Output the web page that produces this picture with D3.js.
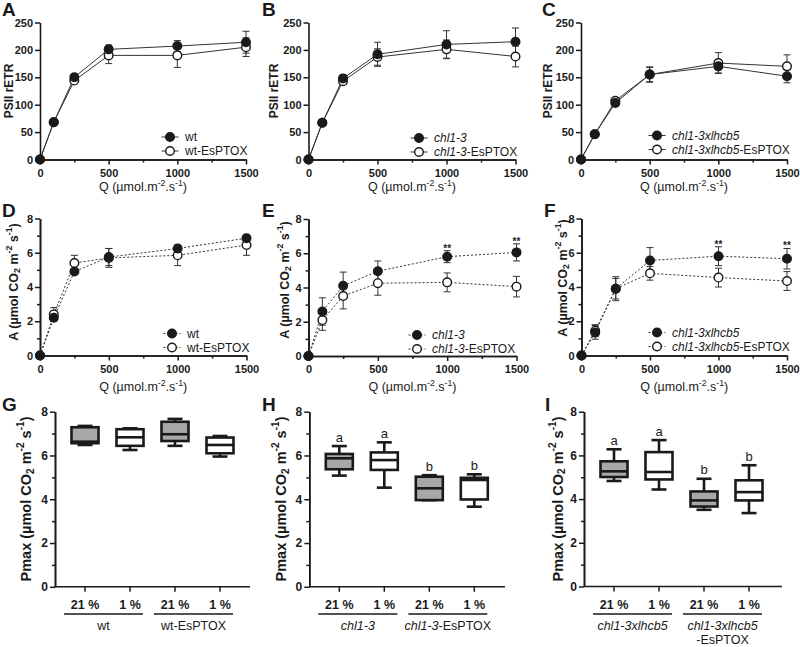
<!DOCTYPE html>
<html><head><meta charset="utf-8">
<script src="https://cdn.jsdelivr.net/npm/d3@7"></script>
<style>body{margin:0;background:#fff} svg{font-family:"Liberation Sans",Arial,sans-serif}</style>
</head><body><svg id="c" width="800" height="647"></svg>
<script>
// ---------- DATA ----------
const qLevels = [0, 100, 250, 500, 1000, 1500];
const qMajorTicks = [0, 500, 1000, 1500];
const qMinorTicks = [250, 750, 1250];
const etrTicks = [0, 50, 100, 150, 200, 250];
const co2Ticks = [0, 2, 4, 6, 8];
const co2MinorTicks = [1, 3, 5, 7];

// Panel A (PSII rETR)
const etrWt = [0, 68, 150, 201, 207, 214];
const etrWtErr = [0, 2, 6, 8, 10, 20];
const etrWtPtox = [0, 68, 144, 190, 190, 205];
const etrWtPtoxErr = [0, 2, 5, 15, 22, 17];
// Panel B
const etrChl = [0, 67, 148, 192, 210, 215];
const etrChlErr = [0, 2, 6, 22, 25, 25];
const etrChlPtox = [0, 67, 143, 187, 201, 188];
const etrChlPtoxErr = [0, 2, 6, 15, 17, 19];
// Panel C
const etrLh = [0, 46, 103, 155, 170, 152];
const etrLhErr = [0, 2, 5, 13, 12, 12];
const etrLhPtox = [0, 46, 107, 155, 176, 170];
const etrLhPtoxErr = [0, 2, 6, 14, 19, 21];

// Panel D (A, umol CO2)
const aWt = [0, 2.2, 4.9, 5.75, 6.25, 6.85];
const aWtErr = [0, 0.2, 0.15, 0.5, 0.1, 0.2];
const aWtPtox = [0, 2.4, 5.4, 5.7, 5.85, 6.45];
const aWtPtoxErr = [0, 0.4, 0.45, 0.55, 0.6, 0.6];
// Panel E
const aChl = [0, 2.6, 4.1, 4.95, 5.8, 6.05];
const aChlErr = [0, 0.8, 0.8, 0.6, 0.35, 0.5];
const aChlPtox = [0, 2.1, 3.5, 4.25, 4.3, 4.05];
const aChlPtoxErr = [0, 0.6, 0.75, 0.7, 0.55, 0.6];
const starsE = [1000, 1500];
// Panel F
const aLh = [0, 1.35, 3.9, 5.55, 5.8, 5.65];
const aLhErr = [0, 0.4, 0.7, 0.75, 0.55, 0.6];
const aLhPtox = [0, 1.45, 3.9, 4.8, 4.55, 4.35];
const aLhPtoxErr = [0, 0.35, 0.6, 0.4, 0.55, 0.55];
const starsF = [1000, 1500];

// Pmax boxes: [min, q1, median, q3, max]
const oxygenLabels = ["21 %", "1 %", "21 %", "1 %"];
const pmaxG = [[6.48, 6.56, 6.63, 7.29, 7.35], [6.25, 6.44, 6.83, 7.2, 7.24], [6.44, 6.66, 6.97, 7.54, 7.67], [5.95, 6.1, 6.48, 6.82, 6.89]];
const pmaxH = [[5.08, 5.37, 5.87, 6.07, 6.43], [4.53, 5.34, 5.79, 6.14, 6.6], [3.96, 3.96, 4.5, 5.03, 5.1], [3.66, 3.99, 4.88, 4.98, 5.14]];
const pmaxI = [[4.83, 5.01, 5.27, 5.73, 6.28], [4.44, 4.9, 5.24, 6.15, 6.7], [3.51, 3.66, 3.94, 4.35, 4.93], [3.36, 3.94, 4.32, 4.86, 5.55]];
const lettersH = ["a", "a", "b", "b"];
const lettersI = ["a", "a", "b", "b"];

// ---------- DRAWING ----------
const svg = d3.select("#c");
const INK = "#1a1a1a";
const fmtInt = d3.format("d");

function rich(g, parts, fs) {
  const t = g.append("text").attr("font-size", fs);
  let shift = 0;
  parts.forEach(p => {
    const ts = t.append("tspan").text(p.t);
    const target = p.s === "sup" ? -0.4 * fs : p.s === "sub" ? 0.25 * fs : 0;
    if (target !== shift) { ts.attr("dy", target - shift); shift = target; }
    if (p.s) ts.attr("font-size", fs * 0.7);
    if (p.i) ts.attr("font-style", "italic");
  });
  return t;
}
function styleAxis(a, fs) {
  a.select(".domain").attr("stroke", INK).attr("stroke-width", 1.6);
  a.selectAll(".tick line").attr("stroke", INK).attr("stroke-width", 1.5);
  a.selectAll(".tick text").attr("font-size", fs).attr("font-weight", "bold").attr("fill", INK)
    .attr("font-family", '"Liberation Sans",Arial,sans-serif');
}
function panelLetter(txt, x, y) {
  svg.append("text").attr("x", x).attr("y", y).attr("font-size", 19).attr("font-weight", "bold")
    .attr("fill", INK).text(txt);
}
function yLabel(parts, cx, cy, fs) {
  const g = svg.append("g").attr("transform", `translate(${cx},${cy}) rotate(-90)`);
  rich(g, parts, fs).attr("text-anchor", "middle").attr("dominant-baseline", "central")
    .attr("font-weight", "bold").attr("fill", INK);
}
const qLabelParts = [{t: "Q (µmol.m"}, {t: "-2", s: "sup"}, {t: ".s"}, {t: "-1", s: "sup"}, {t: ")"}];

function linePanel(o) {
  const g = svg.append("g");
  const x = d3.scaleLinear().domain([0, 1500]).range([o.ax, o.xe]);
  const y = d3.scaleLinear().domain([0, o.ymax]).range([o.yb, o.yt]);
  const xm = g.append("g").attr("transform", `translate(0,${o.yb})`)
    .call(d3.axisBottom(x).tickValues(qMinorTicks).tickSize(3).tickSizeOuter(0).tickFormat(""));
  styleAxis(xm, 11);
  const xa = g.append("g").attr("transform", `translate(0,${o.yb})`)
    .call(d3.axisBottom(x).tickValues(qMajorTicks).tickSize(5).tickSizeOuter(0).tickPadding(4.5).tickFormat(fmtInt));
  styleAxis(xa, 11);
  if (o.yMinor) {
    const ym = g.append("g").attr("transform", `translate(${o.ax},0)`)
      .call(d3.axisLeft(y).tickValues(o.yMinor).tickSize(3).tickSizeOuter(0).tickFormat(""));
    styleAxis(ym, 11);
  }
  const ya = g.append("g").attr("transform", `translate(${o.ax},0)`)
    .call(d3.axisLeft(y).tickValues(o.yTicks).tickSize(5).tickSizeOuter(0).tickPadding(2).tickFormat(fmtInt));
  styleAxis(ya, 11);
  rich(g.append("g").attr("transform", `translate(${(o.ax + o.xe) / 2},${o.xlabY})`), qLabelParts, 12.5)
    .attr("text-anchor", "middle").attr("fill", INK);
  const line = d3.line().x((d, i) => x(qLevels[i])).y(d => y(d));
  const series = [
    {v: o.open, e: o.openErr, filled: false},
    {v: o.filled, e: o.filledErr, filled: true}
  ];
  series.forEach(s => {
    g.append("path").datum(s.v).attr("d", line).attr("fill", "none")
      .attr("stroke", "#333").attr("stroke-width", 1)
      .attr("stroke-dasharray", o.dashed ? "2,2" : null);
  });
  series.forEach(s => {
    s.v.forEach((v, i) => {
      if (!s.e[i]) return;
      const cx = x(qLevels[i]), t = y(v + s.e[i]), b = y(v - s.e[i]);
      g.append("line").attr("x1", cx).attr("x2", cx).attr("y1", t).attr("y2", b).attr("stroke", "#333").attr("stroke-width", 1);
      [t, b].forEach(yy => g.append("line").attr("x1", cx - 3.5).attr("x2", cx + 3.5).attr("y1", yy).attr("y2", yy)
        .attr("stroke", "#333").attr("stroke-width", 1));
    });
  });
  series.forEach(s => {
    g.selectAll(null).data(s.v).enter().append("circle")
      .attr("cx", (d, i) => x(qLevels[i])).attr("cy", d => y(d)).attr("r", 4.3)
      .attr("fill", s.filled ? INK : "#fff").attr("stroke", INK).attr("stroke-width", 1.4);
  });
  if (o.stars) {
    o.stars.forEach(q => {
      const i = qLevels.indexOf(q);
      g.append("text").attr("x", x(q)).attr("y", y(o.filled[i] + o.filledErr[i]) + 1)
        .attr("text-anchor", "middle").attr("font-size", 10).attr("font-weight", "bold").attr("fill", INK).text("**");
    });
  }
  [{lab: o.legF, filled: true, yy: o.legY}, {lab: o.legO, filled: false, yy: o.legY + 14}].forEach(L => {
    g.append("line").attr("x1", o.legX - 8.5).attr("x2", o.legX + 8.5).attr("y1", L.yy).attr("y2", L.yy)
      .attr("stroke", "#333").attr("stroke-width", 1).attr("stroke-dasharray", o.dashed ? "2,2" : null);
    g.append("circle").attr("cx", o.legX).attr("cy", L.yy).attr("r", 4.3)
      .attr("fill", L.filled ? INK : "#fff").attr("stroke", INK).attr("stroke-width", 1.4);
    rich(g.append("g").attr("transform", `translate(${o.legX + 15},${L.yy + 4.2})`), L.lab, 12).attr("fill", INK);
  });
}

function boxPanel(o) {
  const g = svg.append("g");
  const x = d3.scalePoint().domain(d3.range(4)).range([o.ax + 30, o.ax + 165]);
  const y = d3.scaleLinear().domain([0, 8]).range([o.yb, o.yt]);
  const ym = g.append("g").attr("transform", `translate(${o.ax},0)`)
    .call(d3.axisLeft(y).tickValues(co2MinorTicks).tickSize(3).tickSizeOuter(0).tickFormat(""));
  styleAxis(ym, 11);
  const ya = g.append("g").attr("transform", `translate(${o.ax},0)`)
    .call(d3.axisLeft(y).tickValues(co2Ticks).tickSize(5).tickSizeOuter(0).tickPadding(2).tickFormat(fmtInt));
  styleAxis(ya, 12);
  g.append("line").attr("x1", o.ax).attr("x2", o.xe).attr("y1", o.yb).attr("y2", o.yb).attr("stroke", INK).attr("stroke-width", 1.6);
  const bw = 27, cw = 15;
  o.data.forEach((d, i) => {
    const cx = x(i);
    g.append("line").attr("x1", cx).attr("x2", cx).attr("y1", o.yb).attr("y2", o.yb + 5).attr("stroke", INK).attr("stroke-width", 1.5);
    const L = (x1, y1, x2, y2) => g.append("line").attr("x1", x1).attr("y1", y1).attr("x2", x2).attr("y2", y2)
      .attr("stroke", INK).attr("stroke-width", 2.6).attr("stroke-linecap", "butt");
    L(cx, y(d[4]), cx, y(d[3]));
    L(cx, y(d[1]), cx, y(d[0]));
    L(cx - cw / 2, y(d[4]), cx + cw / 2, y(d[4]));
    L(cx - cw / 2, y(d[0]), cx + cw / 2, y(d[0]));
    g.append("rect").attr("x", cx - bw / 2).attr("y", y(d[3])).attr("width", bw).attr("height", Math.max(0.1, y(d[1]) - y(d[3])))
      .attr("fill", i % 2 === 0 ? "#a8a8a8" : "#fff").attr("stroke", INK).attr("stroke-width", 2.6);
    L(cx - bw / 2, y(d[2]), cx + bw / 2, y(d[2]));
    g.append("text").attr("x", cx).attr("y", 609).attr("text-anchor", "middle").attr("font-size", 12.5)
      .attr("font-weight", "bold").attr("fill", INK).text(oxygenLabels[i]);
    if (o.letters) {
      g.append("text").attr("x", cx).attr("y", y(d[4]) - 4.5).attr("text-anchor", "middle").attr("font-size", 13)
        .attr("fill", INK).text(o.letters[i]);
    }
  });
  [[0, 1], [2, 3]].forEach((pr, k) => {
    const x1 = x(pr[0]) - 21, x2 = x(pr[1]) + 13;
    g.append("line").attr("x1", x1).attr("x2", x2).attr("y1", 614).attr("y2", 614).attr("stroke", INK).attr("stroke-width", 1.6);
    o.groups[k].forEach((parts, j) => {
      rich(g.append("g").attr("transform", `translate(${(x1 + x2) / 2},${630 + j * 14})`), parts, 12.5)
        .attr("text-anchor", "middle").attr("fill", INK);
    });
  });
}

// ----- Row 1 -----
const etrLabel = [{t: "PSII rETR"}];
linePanel({ax: 40, xe: 246, yb: 159.5, yt: 22.5, ymax: 250, yTicks: etrTicks, xlabY: 191,
  filled: etrWt, filledErr: etrWtErr, open: etrWtPtox, openErr: etrWtPtoxErr,
  legX: 170, legY: 137, legF: [{t: "wt"}], legO: [{t: "wt-EsPTOX"}]});
linePanel({ax: 308.5, xe: 515.5, yb: 159.5, yt: 22.5, ymax: 250, yTicks: etrTicks, xlabY: 191,
  filled: etrChl, filledErr: etrChlErr, open: etrChlPtox, openErr: etrChlPtoxErr,
  legX: 419, legY: 138, legF: [{t: "chl1-3", i: true}], legO: [{t: "chl1-3", i: true}, {t: "-EsPTOX"}]});
linePanel({ax: 581, xe: 787, yb: 159.5, yt: 22.5, ymax: 250, yTicks: etrTicks, xlabY: 191,
  filled: etrLh, filledErr: etrLhErr, open: etrLhPtox, openErr: etrLhPtoxErr,
  legX: 657, legY: 135.5, legF: [{t: "chl1-3xlhcb5", i: true}], legO: [{t: "chl1-3xlhcb5", i: true}, {t: "-EsPTOX"}]});
yLabel(etrLabel, 9, 91, 12);
yLabel(etrLabel, 273.5, 91, 12);
yLabel(etrLabel, 548, 91, 12);
panelLetter("A", 2, 16); panelLetter("B", 262, 16); panelLetter("C", 542, 16);

// ----- Row 2 -----
const aLabel = [{t: "A (µmol CO"}, {t: "2", s: "sub"}, {t: " m"}, {t: "-2", s: "sup"}, {t: " s"}, {t: "-1", s: "sup"}, {t: ")"}];
linePanel({ax: 40, xe: 246.5, yb: 355.5, yt: 218.5, ymax: 8, yTicks: co2Ticks, yMinor: co2MinorTicks, xlabY: 391, dashed: true,
  filled: aWt, filledErr: aWtErr, open: aWtPtox, openErr: aWtPtoxErr,
  legX: 172, legY: 333.5, legF: [{t: "wt"}], legO: [{t: "wt-EsPTOX"}]});
linePanel({ax: 308.5, xe: 516.5, yb: 356, yt: 219, ymax: 8, yTicks: co2Ticks, yMinor: co2MinorTicks, xlabY: 391, dashed: true,
  filled: aChl, filledErr: aChlErr, open: aChlPtox, openErr: aChlPtoxErr, stars: starsE,
  legX: 417, legY: 335, legF: [{t: "chl1-3", i: true}], legO: [{t: "chl1-3", i: true}, {t: "-EsPTOX"}]});
linePanel({ax: 581.5, xe: 787, yb: 355.5, yt: 218.5, ymax: 8, yTicks: co2Ticks, yMinor: co2MinorTicks, xlabY: 391, dashed: true,
  filled: aLh, filledErr: aLhErr, open: aLhPtox, openErr: aLhPtoxErr, stars: starsF,
  legX: 657, legY: 332.5, legF: [{t: "chl1-3xlhcb5", i: true}], legO: [{t: "chl1-3xlhcb5", i: true}, {t: "-EsPTOX"}]});
yLabel(aLabel, 14, 282, 12.5);
yLabel(aLabel, 285, 280, 12.5);
yLabel(aLabel, 562.5, 278, 12.5);
panelLetter("D", 2, 217); panelLetter("E", 262, 217); panelLetter("F", 544, 217);

// ----- Row 3 -----
const pmaxLabel = [{t: "Pmax (µmol CO"}, {t: "2", s: "sub"}, {t: " m"}, {t: "-2", s: "sup"}, {t: " s"}, {t: "-1", s: "sup"}, {t: ")"}];
boxPanel({ax: 55, xe: 250, yb: 586.8, yt: 411.7, data: pmaxG,
  groups: [[[{t: "wt"}]], [[{t: "wt-EsPTOX"}]]]});
boxPanel({ax: 309.3, xe: 505, yb: 586.8, yt: 411.7, data: pmaxH, letters: lettersH,
  groups: [[[{t: "chl1-3", i: true}]], [[{t: "chl1-3", i: true}, {t: "-EsPTOX"}]]]});
boxPanel({ax: 584, xe: 782, yb: 586.5, yt: 411.7, data: pmaxI, letters: lettersI,
  groups: [[[{t: "chl1-3xlhcb5", i: true}]], [[{t: "chl1-3xlhcb5", i: true}], [{t: "-EsPTOX"}]]]});
yLabel(pmaxLabel, 26, 499, 14.5);
yLabel(pmaxLabel, 281, 499, 14.5);
yLabel(pmaxLabel, 557.5, 499, 14.5);
panelLetter("G", 2, 411); panelLetter("H", 262, 411); panelLetter("I", 545, 411);
</script></body></html>
